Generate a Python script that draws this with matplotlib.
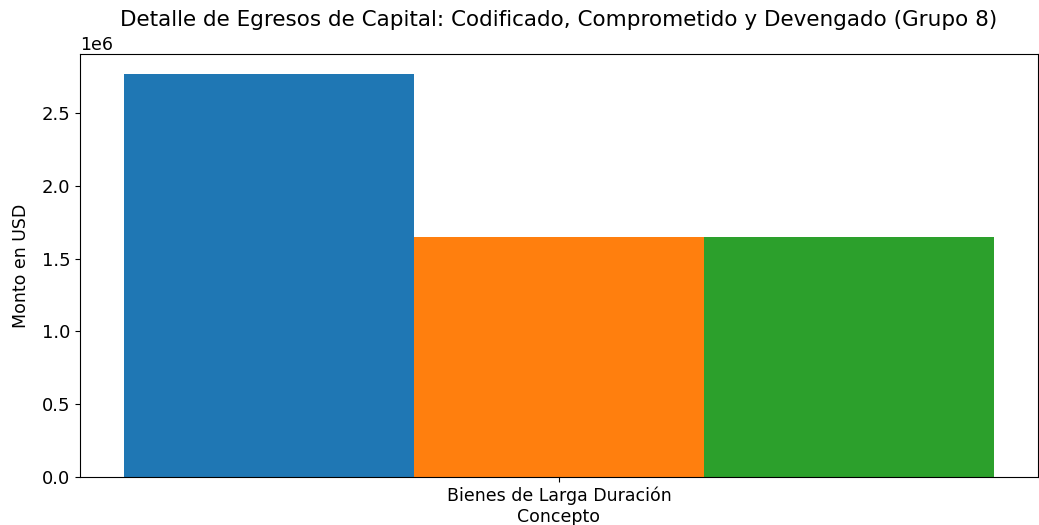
import matplotlib
matplotlib.use("Agg")
import matplotlib.pyplot as plt
import numpy as np

categories = ["Bienes de Larga Duración"]
series_names = ["Codificado", "Comprometido", "Devengado"]
codificado = [2767000]
comprometido = [1648000]
devengado = [1648000]
colors = ["#1f77b4", "#ff7f0e", "#2ca02c"]

fig, ax = plt.subplots(figsize=(10.39, 5.25), dpi=100)
fig.subplots_adjust(left=0.077, right=0.999, top=0.897, bottom=0.0914)

x = np.arange(len(categories))
width = 0.8 / 3
for i, (vals, c) in enumerate(zip([codificado, comprometido, devengado], colors)):
    ax.bar(x + (i - 1) * width, vals, width, color=c, label=series_names[i])

ax.set_xticks(x)
ax.set_xticklabels(categories, fontsize=12.5)
ax.tick_params(axis="y", labelsize=13)
ax.yaxis.get_offset_text().set_fontsize(12.5)
ax.set_xlabel("Concepto", fontsize=12.5, labelpad=2)
ax.set_ylabel("Monto en USD", fontsize=12.5, labelpad=8)
ax.set_title("Detalle de Egresos de Capital: Codificado, Comprometido y Devengado (Grupo 8)",
             fontsize=15.5, pad=20)

fig.savefig("out.png", dpi=100)
